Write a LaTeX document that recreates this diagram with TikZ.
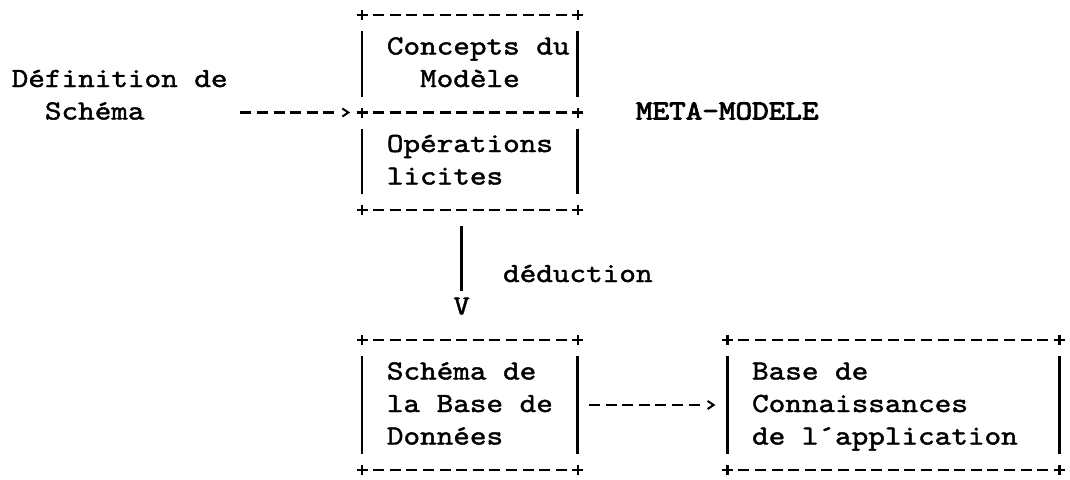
\documentclass[tikz,border=0pt]{standalone}
\usepackage{fontspec}
\newfontfamily\typewriter{lmmono10-regular.otf}[FakeStretch=1.143, FakeBold=1.5]
\newfontfamily\typewriterheavy{lmmono10-regular.otf}[FakeStretch=1.143, FakeBold=3]

% character grid of the typed sheet: column pitch 16.6, line pitch 32.5
\newcommand\cx[1]{(13.4+16.6*(#1))}
\newcommand\ry[1]{(15+32.5*(#1))}

\tikzset{
  txt/.style={anchor=base west, inner sep=0pt, outer sep=0pt,
    font=\typewriter\fontsize{27.67pt}{32.5pt}\selectfont},
  heavytxt/.style={txt, font=\typewriterheavy\fontsize{27.67pt}{32.5pt}\selectfont},
  boxarea/.style={draw=none, inner sep=0pt, outer sep=0pt},
  boxdash/.style={line width=2.4pt, dash pattern=on 11pt off 5.6pt},
  boxside/.style={line width=2.8pt},
  pluspen/.style={line width=2.6pt},
  dashconn/.style={line width=2.4pt, dash pattern=on 11pt off 5.6pt},
  stemconn/.style={line width=2.8pt},
  chevpen/.style={line width=2pt, line join=miter},
  plus/.pic={\draw[pluspen] (-5.5,0) -- (5.5,0) (0,-5) -- (0,5);},
  chev/.pic={\draw[chevpen] (-3,-4) -- (3,0) -- (-3,4);},
}

% a dashed row "+------+" between columns #1 and #2 on line #3
\newcommand\plusdash[3]{%
  \draw[boxdash] ({\cx{#1}+11.1},{\ry{#3}}) -- ({\cx{#2}-11.1},{\ry{#3}});
  \pic at ({\cx{#1}},{\ry{#3}}) {plus};
  \pic at ({\cx{#2}},{\ry{#3}}) {plus};
}
% a solid side "|" at column #1 between lines #2 and #3
\newcommand\sideline[3]{%
  \draw[boxside] ({\cx{#1}},{\ry{#2}+16}) -- ({\cx{#1}},{\ry{#3}-16});
}

\begin{document}
\begin{tikzpicture}[x=1pt,y=-1pt]
\useasboundingbox (0,0) rectangle (1070,479);

% box areas
\node[boxarea, minimum width=215.8pt, minimum height=195pt] (mm) at ({\cx{27.5}},{\ry{3}}) {};
\node[boxarea, minimum width=215.8pt, minimum height=130pt] (sch) at ({\cx{27.5}},{\ry{12}}) {};
\node[boxarea, minimum width=332pt, minimum height=130pt] (kb) at ({\cx{53}},{\ry{12}}) {};

% meta-model box with its separator
\plusdash{21}{34}{0}
\plusdash{21}{34}{3}
\plusdash{21}{34}{6}
\sideline{21}{0}{3} \sideline{34}{0}{3}
\sideline{21}{3}{6} \sideline{34}{3}{6}

% database schema box
\plusdash{21}{34}{10}
\plusdash{21}{34}{14}
\sideline{21}{10}{14} \sideline{34}{10}{14}

% knowledge base box
\plusdash{43}{63}{10}
\plusdash{43}{63}{14}
\sideline{43}{10}{14} \sideline{63}{10}{14}

% texts
\node[txt] (defA) at ({\cx{0.4}-8.3},{\ry{2}+7}) {Définition de};
\node[txt] (defB) at ({\cx{2.4}-8.3},{\ry{3}+7}) {Schéma};
\node[txt] (mmA) at ({\cx{23}-8.3},{\ry{1}+7}) {Concepts du};
\node[txt] (mmB) at ({\cx{25}-8.3},{\ry{2}+7}) {Modèle};
\node[txt] (mmC) at ({\cx{23}-8.3},{\ry{4}+7}) {Opérations};
\node[txt] (mmD) at ({\cx{23}-8.3},{\ry{5}+7}) {licites};
\node[heavytxt] (meta) at ({\cx{38}-8.3},{\ry{3}+7}) {META-MODELE};
\node[txt] (ded) at ({\cx{30}-8.3},{\ry{8}+7}) {déduction};
\node[txt, anchor=base] (vtip) at ({\cx{27}},{\ry{9}+7}) {V};
\node[txt] (schA) at ({\cx{23}-8.3},{\ry{11}+7}) {Schéma de};
\node[txt] (schB) at ({\cx{23}-8.3},{\ry{12}+7}) {la Base de};
\node[txt] (schC) at ({\cx{23}-8.3},{\ry{13}+7}) {Données};
\node[txt] (kbA) at ({\cx{45}-8.3},{\ry{11}+7}) {Base de};
\node[txt] (kbB) at ({\cx{45}-8.3},{\ry{12}+7}) {Connaissances};
\node[txt] (kbC) at ({\cx{45}-8.3},{\ry{13}+7}) {de l´application};

% connectors
\coordinate (a1s) at ({\cx{14}-5.5},{\ry{3}});
\draw[dashconn, shorten >=27.7pt] (a1s) -- (mm.west);
\path ([xshift=-16.6pt]mm.west) pic {chev};

\draw[stemconn, shorten <=16pt, shorten >=7pt] (mm.south -| vtip) -- (vtip.north);

\draw[dashconn, shorten <=11.1pt, shorten >=27.7pt] (sch.east) -- (kb.west);
\path ([xshift=-16.6pt]kb.west) pic {chev};
\end{tikzpicture}
\end{document}
